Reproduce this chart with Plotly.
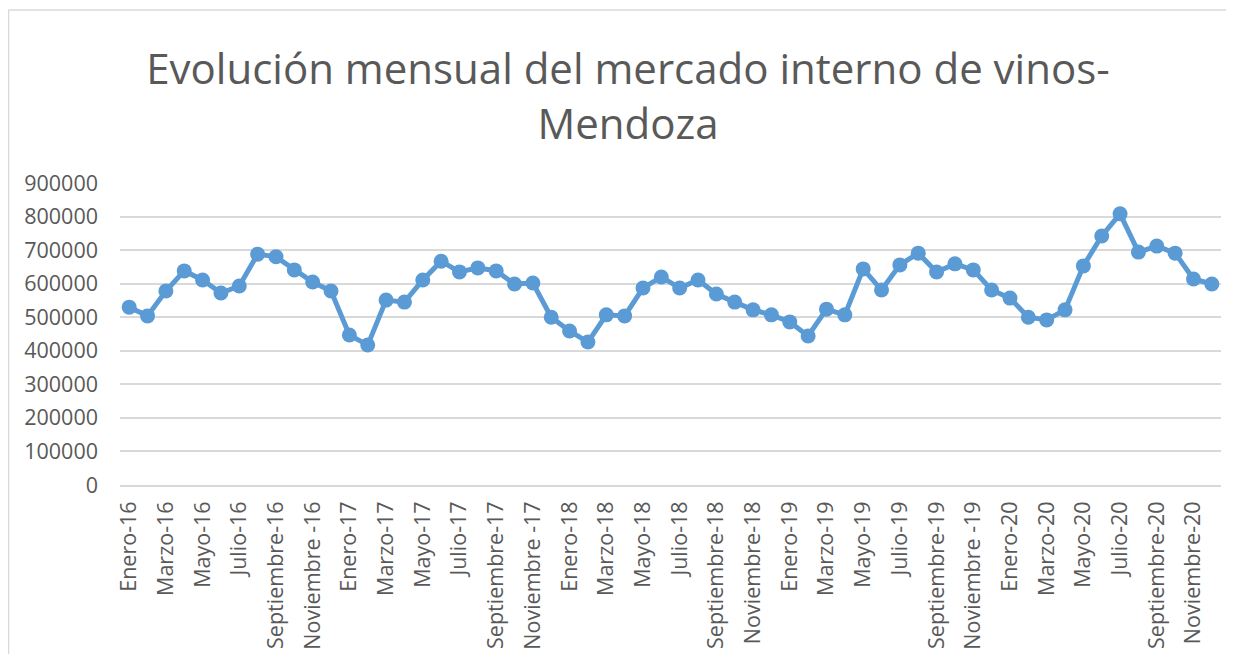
import plotly.graph_objects as go

months = ["Enero", "Febrero", "Marzo", "Abril", "Mayo", "Junio", "Julio",
          "Agosto", "Septiembre", "Octubre", "Noviembre", "Diciembre"]
years = ["16", "17", "18", "19", "20"]
nov_space_years = ["16", "17", "19"]

categories = []
for yy in years:
    for m in months:
        if m == "Noviembre" and yy in nov_space_years:
            categories.append(f"{m} -{yy}")
        else:
            categories.append(f"{m}-{yy}")

values = [
    530000, 504000, 578000, 638000, 611000, 572000, 593000, 688000, 680000, 641000, 605000, 578000,
    447000, 417000, 551000, 545000, 611000, 667000, 635000, 647000, 638000, 599000, 602000, 500000,
    459000, 426000, 507000, 504000, 587000, 620000, 587000, 611000, 569000, 545000, 522000, 507000,
    486000, 444000, 524000, 507000, 644000, 581000, 656000, 691000, 635000, 659000, 641000, 581000,
    557000, 500000, 492000, 522000, 653000, 742000, 808000, 694000, 712000, 691000, 614000, 599000,
]

tick_labels = categories[::2]
y_ticks = [0, 100000, 200000, 300000, 400000, 500000, 600000, 700000, 800000, 900000]

# page body has an 8px margin, so figure coords = screen coords - 8
OFF = 8
W, H = 1234, 654
ML, MT = 120 - OFF, 183 - OFF
MR = W - (1221 - OFF)
MB = H - (485 - OFF)
pw, ph = W - ML - MR, H - MT - MB

fig = go.Figure()
fig.add_trace(go.Scatter(
    x=categories, y=values, mode="lines+markers",
    line=dict(color="#5b9bd5", width=5),
    marker=dict(color="#5b9bd5", size=15),
    showlegend=False, hoverinfo="x+y",
))

font_family = "Open Sans, Noto Sans, sans-serif"
grey = "#595959"

fx = lambda px: (px - ML) / pw
fy = lambda py: (H - MB - py) / ph

fig.update_layout(
    width=W, height=H,
    margin=dict(l=ML, r=MR, t=MT, b=MB),
    paper_bgcolor="white", plot_bgcolor="white",
    title=dict(
        text="Evolución mensual del mercado interno de vinos-<br>Mendoza",
        x=(628 - OFF) / W, xanchor="center", y=1 - 76 / H, yanchor="middle",
        font=dict(family=font_family, size=42, color=grey),
    ),
    xaxis=dict(
        type="category",
        categoryorder="array", categoryarray=categories,
        range=[-0.5, len(categories) - 0.5],
        tickmode="array", tickvals=tick_labels, ticktext=tick_labels,
        tickangle=-90,
        tickfont=dict(family=font_family, size=21.5, color=grey),
        showgrid=False, zeroline=False,
        showline=True, linecolor="#d9d9d9", linewidth=1.5,
        ticks="", ticklabelstandoff=6,
    ),
    yaxis=dict(
        range=[0, 900000],
        tickmode="array", tickvals=y_ticks, ticktext=[str(v) for v in y_ticks],
        tickfont=dict(family=font_family, size=21.5, color=grey),
        showgrid=True, gridcolor="#d9d9d9", gridwidth=1.5,
        zeroline=False, showline=False, ticks="",
        ticklabelstandoff=21,
    ),
    shapes=[
        dict(type="line", xref="paper", yref="paper",
             x0=fx(0.5), x1=fx(0.5), y0=fy(2), y1=fy(H + 10),
             line=dict(color="#d9d9d9", width=1.5)),
        dict(type="line", xref="paper", yref="paper",
             x0=fx(0.5), x1=fx(W + 10), y0=fy(2), y1=fy(2),
             line=dict(color="#d9d9d9", width=1.5)),
    ],
)

fig.write_html("out.html")
